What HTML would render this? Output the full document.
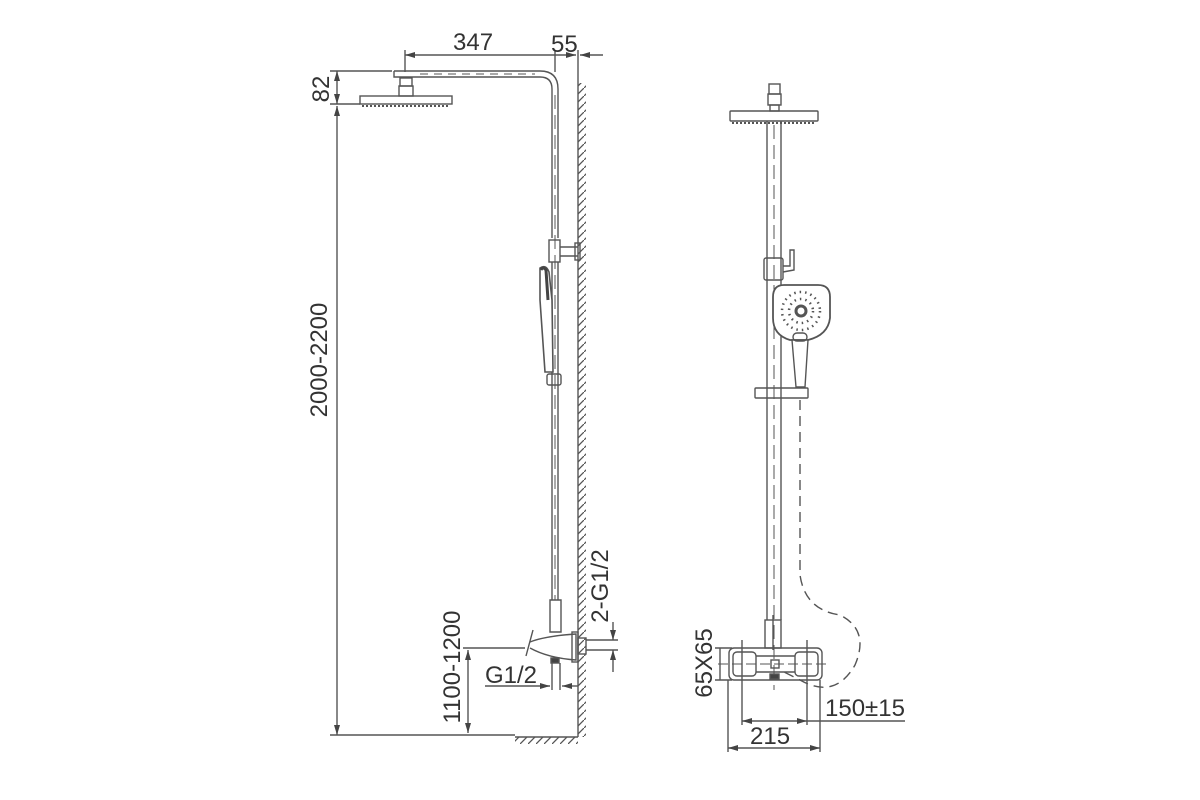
<!DOCTYPE html>
<html><head><meta charset="utf-8"><style>html,body{margin:0;background:#fff}svg{display:block}text{font-family:"Liberation Sans",sans-serif;fill:#333;font-size:24px}</style></head><body>
<svg width="1200" height="800" viewBox="0 0 1200 800" xmlns="http://www.w3.org/2000/svg">
<defs>
<marker id="a" viewBox="0 0 10 6" refX="10" refY="3" markerWidth="10" markerHeight="6" orient="auto-start-reverse" markerUnits="userSpaceOnUse"><path d="M0,0 L10,3 L0,6 z" fill="#444"/></marker>
<pattern id="h" width="8" height="8" patternUnits="userSpaceOnUse"><path d="M0,8 L8,0" stroke="#555" stroke-width="1.3"/></pattern>
</defs>
<g stroke="#555" stroke-width="1.4" fill="none">
<!-- LEFT VIEW -->
<!-- dimensions top -->
<line x1="405" y1="55" x2="576" y2="55" marker-start="url(#a)" marker-end="url(#a)"/>
<line x1="603" y1="55" x2="580" y2="55" marker-end="url(#a)"/>
<line x1="405" y1="50" x2="405" y2="72"/>
<line x1="555" y1="50" x2="555" y2="72"/>
<line x1="578" y1="50" x2="578" y2="83"/>
<!-- 82 and 2000 -->
<line x1="330" y1="71" x2="392" y2="71"/>
<line x1="330" y1="104" x2="360" y2="104"/>
<line x1="337" y1="71" x2="337" y2="104" marker-start="url(#a)" marker-end="url(#a)"/>
<line x1="337" y1="106" x2="337" y2="735" marker-start="url(#a)" marker-end="url(#a)"/>
<line x1="330" y1="735" x2="515" y2="735"/>
<!-- wall -->
<line x1="578" y1="83" x2="578" y2="737"/>
<rect x="578" y="83" width="8" height="654" fill="url(#h)" stroke="none"/>
<line x1="515" y1="737" x2="578" y2="737"/>
<rect x="515" y="737" width="63" height="7" fill="url(#h)" stroke="none"/>
<!-- arm -->
<path d="M394,71 L540,71 Q558,71 558,89 L558,238"/>
<path d="M394,71 L394,77 L540,77 Q552,77 552,89 L552,238"/>
<line x1="420" y1="74" x2="535" y2="74" stroke-dasharray="8,6" stroke-width="1"/>
<line x1="555" y1="95" x2="555" y2="600" stroke-dasharray="14,6" stroke-width="1"/>
<rect x="400" y="78" width="12" height="8"/><rect x="399" y="86" width="14" height="10"/>
<rect x="360" y="96" width="92" height="8"/>
<line x1="362" y1="106" x2="450" y2="106" stroke-dasharray="2,2" stroke-width="2"/>
<!-- bracket -->
<rect x="549" y="240" width="11" height="22"/>
<path d="M560,247 L578,247 M560,256 L578,256"/>
<rect x="575" y="243" width="5" height="17"/>
<line x1="552" y1="262" x2="552" y2="600"/><line x1="558" y1="262" x2="558" y2="600"/>
<!-- hand shower side -->
<path d="M540,268 Q546,264 549,272 L552,300 L553,372 L545,372 L540,300 Z" fill="#fff" stroke-width="1.6"/>
<path d="M541,270 Q543,266 546,270 L548,300" stroke-width="3" stroke="#444"/>
<rect x="547" y="374" width="14" height="11" rx="2"/>
<!-- lower -->
<path d="M550,600 L550,632 L561,632 L561,600 Z"/>
<path d="M533,630 L526,656 M530,642 Q545,636 576,634 L576,660 Q548,658 530,648"/>
<rect x="572" y="632" width="6" height="30"/>
<rect x="578" y="638" width="8" height="16"/>
<rect x="551" y="658" width="8" height="5" fill="#444"/>
<line x1="552" y1="663" x2="552" y2="690"/><line x1="560" y1="663" x2="560" y2="690"/>
<!-- 1100 -->
<line x1="463" y1="648" x2="525" y2="648"/>
<line x1="468" y1="650" x2="468" y2="733" marker-start="url(#a)" marker-end="url(#a)"/>
<line x1="485" y1="686" x2="550" y2="686" marker-end="url(#a)"/>
<line x1="578" y1="686" x2="562" y2="686" marker-end="url(#a)"/>
<!-- 2-G1/2 -->
<line x1="586" y1="640" x2="618" y2="640"/><line x1="586" y1="650" x2="618" y2="650"/>
<line x1="613" y1="622" x2="613" y2="640" marker-end="url(#a)"/>
<line x1="613" y1="672" x2="613" y2="650" marker-end="url(#a)"/>

<!-- RIGHT VIEW -->
<rect x="769" y="84" width="11" height="10"/><rect x="768" y="94" width="13" height="11"/><rect x="770" y="105" width="9" height="6"/>
<rect x="730" y="111" width="88" height="10" rx="1"/>
<line x1="732" y1="123" x2="816" y2="123" stroke-dasharray="2,2" stroke-width="2"/>
<line x1="767" y1="121" x2="767" y2="620"/><line x1="781" y1="121" x2="781" y2="620"/>
<line x1="774" y1="125" x2="774" y2="690" stroke-dasharray="14,6" stroke-width="1"/>
<rect x="764" y="258" width="19" height="22" rx="2"/>
<path d="M783,266 L790,266 L790,250 L794,250 L794,270 L783,272"/>
<path d="M784,285 L818,285 Q830,285 830,297 L830,318 Q828,335 808,340 L790,340 Q773,335 773,318 L773,297 Q773,285 784,285 Z" fill="#fff" stroke-width="1.8"/>
<path d="M792,340 L808,340 L805,387 L796,387 Z" fill="#fff"/>
<rect x="793" y="333" width="14" height="8" rx="4"/>
<circle cx="801" cy="311" r="5" stroke-width="3"/>
<g stroke="#555" stroke-width="2.5" stroke-dasharray="1.5,4">
<circle cx="801" cy="311" r="12"/><circle cx="801" cy="311" r="19"/></g>
<rect x="755" y="388" width="53" height="10" rx="1"/>
<path d="M800,400 L800,575 Q805,610 840,615 Q870,630 855,665 Q835,700 800,680 L780,670" stroke-dasharray="10,6"/>
<rect x="765" y="620" width="16" height="28"/>
<line x1="773" y1="615" x2="773" y2="650"/>
<rect x="729" y="648" width="93" height="32" rx="5"/>
<rect x="733" y="652" width="23" height="24" rx="4"/><rect x="795" y="652" width="23" height="24" rx="4"/>
<line x1="756" y1="656" x2="795" y2="656"/><line x1="756" y1="672" x2="795" y2="672"/>
<rect x="771" y="660" width="8" height="8"/>
<rect x="770" y="674" width="9" height="5" fill="#444"/>
<line x1="718" y1="664" x2="830" y2="664" stroke-dasharray="10,4" stroke-width="1"/>
<!-- dims right -->
<line x1="715" y1="648" x2="732" y2="648"/><line x1="715" y1="680" x2="732" y2="680"/>
<line x1="720" y1="648" x2="720" y2="680"/>
<line x1="742" y1="640" x2="742" y2="725"/><line x1="807" y1="640" x2="807" y2="725"/>
<line x1="728" y1="680" x2="728" y2="752"/><line x1="820" y1="680" x2="820" y2="752"/>
<line x1="742" y1="721" x2="807" y2="721" marker-start="url(#a)" marker-end="url(#a)"/>
<line x1="807" y1="721" x2="905" y2="721"/>
<line x1="728" y1="748" x2="820" y2="748" marker-start="url(#a)" marker-end="url(#a)"/>
</g>
<text x="453" y="50">347</text>
<text x="551" y="52">55</text>
<text transform="translate(329,89) rotate(-90)" text-anchor="middle">82</text>
<text transform="translate(327,360) rotate(-90)" text-anchor="middle">2000-2200</text>
<text transform="translate(460,667) rotate(-90)" text-anchor="middle">1100-1200</text>
<text x="485" y="683">G1/2</text>
<text transform="translate(608,586) rotate(-90)" text-anchor="middle">2-G1/2</text>
<text transform="translate(712,663) rotate(-90)" text-anchor="middle">65X65</text>
<text x="825" y="716">150±15</text>
<text x="750" y="744">215</text>
</svg>
</body></html>
